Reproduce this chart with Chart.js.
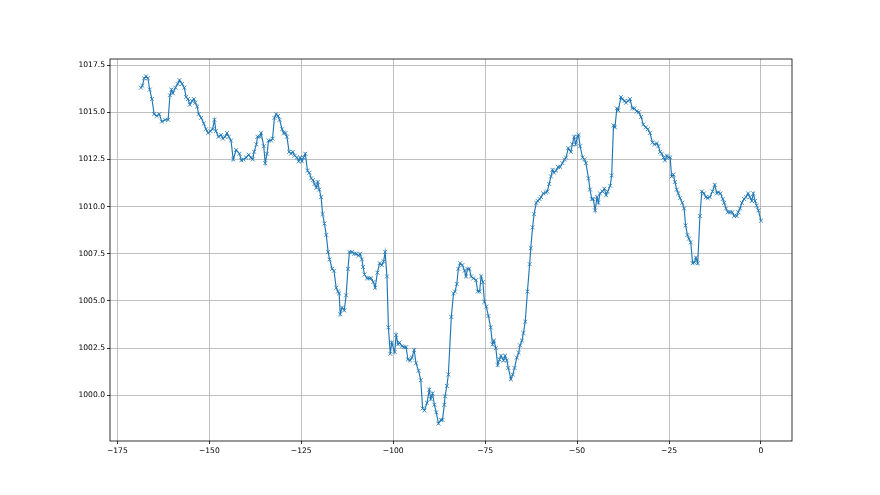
<!DOCTYPE html>
<html>
<head>
<meta charset="utf-8">
<script src="https://cdn.jsdelivr.net/npm/chart.js@4.4.0/dist/chart.umd.min.js"></script>
<style>
  html, body { margin: 0; padding: 0; background: #fff; }
  #wrap { width: 880px; height: 495px; }
</style>
</head>
<body>
<div id="wrap"><canvas id="pressureChart" width="880" height="495"></canvas></div>
<script>
// hours relative to now, and pressure readings (hPa)
const hoursAgo = [
  -168.6, -168.2, -167.7, -167.2, -166.7, -166.2, -165.6, -165.0, -164.3, -163.6,
  -162.9, -162.0, -161.2, -160.7, -160.3, -159.9, -159.2, -158.6, -158.1, -157.4,
  -156.8, -156.3, -155.8, -155.3, -154.7, -154.2, -153.8, -153.3, -152.9, -152.2,
  -151.5, -150.9, -150.3, -149.7, -149.1, -148.6, -148.2, -147.5, -146.8, -146.3,
  -145.7, -145.2, -144.7, -144.1, -143.5, -142.7, -141.8, -141.3, -140.7, -140.0,
  -139.3, -138.7, -138.2, -137.8, -137.2, -136.9, -136.3, -135.9, -135.2, -134.8,
  -134.3, -133.9, -133.2, -132.8, -132.3, -131.8, -131.3, -130.9, -130.2, -129.8,
  -129.3, -128.9, -128.3, -127.8, -127.3, -126.8, -126.2, -125.7, -125.3, -124.8,
  -124.4, -123.9, -123.3, -122.8, -122.3, -121.8, -121.4, -120.9, -120.5, -120.1,
  -119.6, -119.2, -118.7, -118.2, -117.7, -117.3, -116.6, -116.1, -115.5, -115.0,
  -114.7, -114.4, -113.9, -113.3, -112.8, -112.3, -111.9, -111.2, -110.6, -110.1,
  -109.4, -109.0, -108.5, -108.2, -107.8, -107.1, -106.5, -106.0, -105.4, -104.9,
  -104.3, -103.7, -103.1, -102.6, -102.2, -101.7, -101.3, -100.8, -100.4, -99.6,
  -99.2, -98.7, -98.3, -97.6, -97.0, -96.5, -96.0, -95.4, -94.9, -94.3,
  -93.8, -93.1, -92.5, -92.0, -91.5, -90.8, -90.2, -89.8, -89.3, -88.8,
  -88.3, -87.7, -87.0, -86.6, -86.1, -85.9, -85.4, -85.0, -84.2, -83.6,
  -83.2, -82.7, -82.3, -81.8, -81.2, -80.6, -80.2, -79.8, -79.3, -78.8,
  -78.2, -77.5, -77.0, -76.5, -76.1, -75.6, -75.2, -74.7, -74.1, -73.5,
  -73.0, -72.6, -72.1, -71.6, -71.1, -70.7, -70.0, -69.6, -69.1, -68.7,
  -68.0, -67.5, -67.0, -66.4, -65.9, -65.5, -65.0, -64.6, -64.1, -63.5,
  -62.9, -62.6, -62.1, -61.7, -61.1, -60.7, -60.2, -59.8, -59.2, -58.5,
  -58.1, -57.6, -57.1, -56.7, -56.3, -55.7, -55.2, -54.6, -54.0, -53.4,
  -53.0, -52.4, -51.7, -51.3, -50.8, -50.4, -49.9, -49.6, -49.2, -48.5,
  -48.0, -47.6, -46.9, -46.5, -46.0, -45.6, -45.1, -44.6, -44.2, -43.8,
  -43.1, -42.6, -42.1, -41.7, -41.0, -40.6, -40.1, -39.7, -39.2, -38.8,
  -38.1, -37.7, -37.1, -36.7, -36.1, -35.6, -35.0, -34.4, -33.8, -33.2,
  -32.6, -32.0, -31.3, -30.8, -30.2, -29.5, -29.0, -28.3, -27.9, -27.4,
  -27.0, -26.5, -26.1, -25.6, -25.2, -24.7, -24.3, -23.8, -23.4, -22.9,
  -22.5, -22.0, -21.4, -20.9, -20.5, -20.0, -19.6, -19.1, -18.6, -18.1,
  -17.7, -17.2, -16.6, -16.1, -15.5, -15.0, -14.5, -13.9, -13.2, -12.6,
  -12.0, -11.6, -11.0, -10.4, -10.0, -9.5, -9.0, -8.4, -7.8, -7.3,
  -6.6, -6.2, -5.7, -5.2, -4.6, -4.1, -3.5, -3.0, -2.5, -2.1,
  -1.6, -1.2, -0.7, 0.0
];
const pressure = [
  1016.3, 1016.4, 1016.8, 1016.9, 1016.8, 1016.2, 1015.7, 1014.9, 1014.8, 1014.9,
  1014.5, 1014.6, 1014.6, 1015.9, 1016.2, 1016.0, 1016.3, 1016.5, 1016.7, 1016.5,
  1016.3, 1015.8, 1015.7, 1015.4, 1015.6, 1015.7, 1015.5, 1015.3, 1014.9, 1014.7,
  1014.4, 1014.1, 1013.9, 1014.0, 1014.1, 1014.6, 1014.0, 1013.7, 1013.8, 1013.6,
  1013.7, 1013.9, 1013.7, 1013.5, 1012.5, 1013.0, 1012.8, 1012.45, 1012.5, 1012.6,
  1012.75, 1012.6, 1012.5, 1012.9, 1013.3, 1013.7, 1013.7, 1013.9, 1013.2, 1012.3,
  1012.8, 1013.5, 1013.5, 1013.6, 1014.7, 1014.9, 1014.8, 1014.6, 1014.1, 1013.9,
  1013.9, 1013.7, 1012.9, 1012.8, 1012.9, 1012.7, 1012.6, 1012.4, 1012.6, 1012.4,
  1012.6, 1012.8, 1011.9, 1011.8, 1011.5, 1011.4, 1011.2, 1011.0, 1011.3, 1010.9,
  1010.5, 1009.6, 1009.1, 1008.5, 1007.6, 1007.2, 1006.7, 1006.6, 1005.7, 1005.5,
  1005.4, 1004.3, 1004.65, 1004.5, 1005.3, 1006.7, 1007.6, 1007.6, 1007.5, 1007.5,
  1007.4, 1007.5, 1007.2, 1006.8, 1006.4, 1006.2, 1006.2, 1006.2, 1006.0, 1005.7,
  1006.5, 1007.0, 1006.9, 1007.1, 1007.6, 1006.3, 1003.6, 1002.2, 1002.8, 1002.3,
  1003.2, 1002.7, 1002.8, 1002.6, 1002.55, 1002.55, 1001.9, 1001.85, 1002.0, 1002.4,
  1001.7, 1001.3, 1000.8, 999.3, 999.2, 999.6, 1000.3, 999.8, 1000.1, 999.5,
  999.1, 998.5, 998.7, 998.7, 999.5, 999.95, 1000.5, 1001.1, 1004.15, 1005.4,
  1005.5, 1005.9, 1006.7, 1007.0, 1006.9, 1006.6, 1006.3, 1006.7, 1006.7, 1006.3,
  1006.2, 1006.1, 1005.5, 1005.5, 1006.3, 1006.0, 1004.95, 1004.7, 1004.2, 1003.6,
  1002.7, 1002.9, 1002.5, 1001.6, 1001.9, 1002.1, 1001.85, 1002.1, 1001.85, 1001.45,
  1000.85, 1001.1, 1001.45, 1002.0, 1002.25, 1002.65, 1002.9, 1003.3, 1003.9, 1005.5,
  1006.95, 1007.8, 1008.9, 1009.6, 1010.2, 1010.3, 1010.4, 1010.5, 1010.7, 1010.75,
  1010.8, 1011.2, 1011.6, 1011.95, 1011.8, 1011.9, 1012.1, 1012.1, 1012.3, 1012.5,
  1012.6, 1013.1, 1012.9, 1013.3, 1013.7, 1013.3, 1013.7, 1013.8, 1013.2, 1012.6,
  1012.5, 1012.3, 1011.5, 1010.9, 1010.4, 1010.4, 1009.8, 1010.5, 1010.2, 1010.7,
  1010.8, 1010.95, 1010.6, 1010.8, 1011.1, 1011.65, 1014.3, 1014.2, 1015.2, 1015.1,
  1015.8, 1015.7, 1015.6, 1015.5, 1015.6, 1015.7, 1015.2, 1015.2, 1015.05, 1015.0,
  1014.75, 1014.35, 1014.2, 1014.1, 1013.9, 1013.4, 1013.3, 1013.35, 1013.2, 1012.9,
  1012.8, 1012.6, 1012.45, 1012.7, 1012.6, 1012.6, 1011.6, 1011.7, 1011.3, 1010.9,
  1010.7, 1010.45, 1010.2, 1009.9, 1009.0, 1008.5, 1008.3, 1008.1, 1007.0, 1007.05,
  1007.3, 1007.0, 1009.5, 1010.8, 1010.7, 1010.5, 1010.45, 1010.5, 1010.8, 1011.15,
  1010.7, 1010.76, 1010.7, 1010.4, 1010.2, 1009.9, 1009.7, 1009.7, 1009.7, 1009.5,
  1009.5, 1009.7, 1009.9, 1010.2, 1010.4, 1010.5, 1010.7, 1010.5, 1010.3, 1010.7,
  1010.3, 1010.05, 1009.8, 1009.25
];
const xTicks = [-175, -150, -125, -100, -75, -50, -25, 0];
const yTicks = [1000.0, 1002.5, 1005.0, 1007.5, 1010.0, 1012.5, 1015.0, 1017.5];

const tickFont = { family: 'DejaVu Sans', size: 7.6 };

// matplotlib-like frame around the plot area
const framePlugin = {
  id: 'frame',
  afterDatasetsDraw(chart) {
    const a = chart.chartArea;
    const ctx = chart.ctx;
    ctx.save();
    ctx.strokeStyle = '#000';
    ctx.lineWidth = 0.8;
    ctx.strokeRect(a.left, a.top, a.right - a.left, a.bottom - a.top);
    ctx.restore();
  }
};

const points = hoursAgo.map((h, i) => ({ x: h, y: pressure[i] }));

new Chart(document.getElementById('pressureChart'), {
  type: 'line',
  data: {
    datasets: [{
      data: points,
      borderColor: '#1f77b4',
      borderWidth: 1.15,
      tension: 0,
      pointStyle: 'crossRot',
      pointRadius: 2.8,
      pointBorderWidth: 0.8,
      pointBorderColor: '#1f77b4',
      pointBackgroundColor: '#1f77b4',
      pointHoverRadius: 2.8
    }]
  },
  options: {
    responsive: false,
    devicePixelRatio: 1,
    animation: false,
    layout: { padding: { top: 59, right: 88, left: 0, bottom: 0 } },
    plugins: { legend: { display: false }, tooltip: { enabled: false } },
    scales: {
      x: {
        type: 'linear',
        min: -177.0,
        max: 8.43,
        afterBuildTicks: s => { s.ticks = xTicks.map(v => ({ value: v })); },
        afterFit: s => { s.height = 54; },
        border: { display: false },
        grid: { color: '#b0b0b0', lineWidth: 0.8, tickColor: '#000', tickLength: 3, tickWidth: 0.8 },
        ticks: {
          color: '#000',
          font: tickFont,
          padding: 2,
          maxRotation: 0,
          callback: v => v < 0 ? '\u2212' + Math.abs(v) : String(v)
        }
      },
      y: {
        min: 997.58,
        max: 1017.82,
        afterBuildTicks: s => { s.ticks = yTicks.map(v => ({ value: v })); },
        afterFit: s => { s.width = 110; },
        border: { display: false },
        grid: { color: '#b0b0b0', lineWidth: 0.8, tickColor: '#000', tickLength: 3, tickWidth: 0.8 },
        ticks: {
          color: '#000',
          font: tickFont,
          padding: 2,
          callback: v => Number(v).toFixed(1)
        }
      }
    }
  },
  plugins: [framePlugin]
});
</script>
</body>
</html>
